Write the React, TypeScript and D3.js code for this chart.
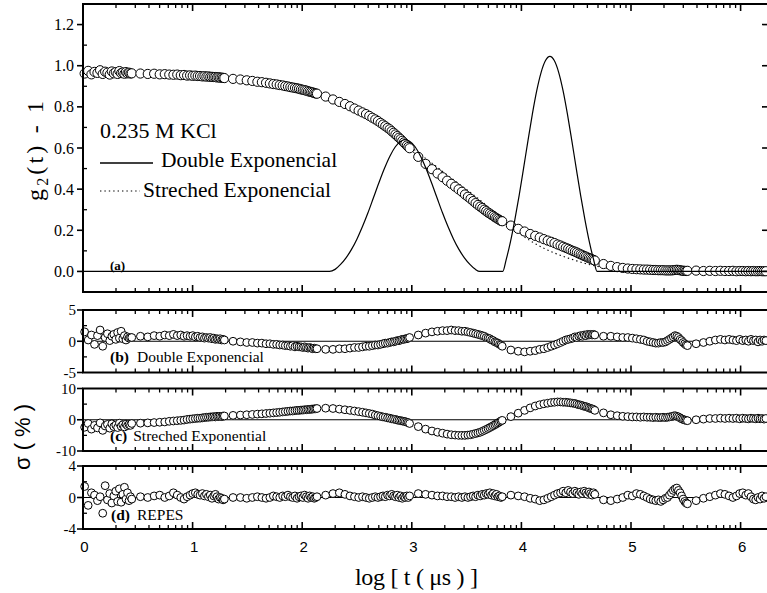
import React from 'react';
import * as d3 from 'd3';

// ---------------- data ----------------
// log10 of delay time (µs) for every measured channel
const delayLog = [
  0.015, 0.047, 0.077, 0.105, 0.132, 0.156, 0.180, 0.202, 0.223, 0.244, 0.263, 0.281, 0.299, 0.316, 0.332, 0.348, 0.363, 0.378, 0.392, 0.406, 0.420, 0.433,
  0.445, 0.524, 0.591, 0.649, 0.700, 0.746, 0.787, 0.825, 0.860, 0.892, 0.922, 0.950, 0.977, 1.001, 1.025, 1.047, 1.068, 1.089, 1.108, 1.126, 1.144, 1.161, 1.177, 1.193, 1.208, 1.223, 1.237, 1.251, 1.265, 1.278,
  1.290, 1.369, 1.436, 1.494, 1.545, 1.591, 1.632, 1.670, 1.705, 1.737, 1.767, 1.795, 1.822, 1.846, 1.870, 1.892, 1.913, 1.934, 1.953, 1.971, 1.989, 2.006, 2.022, 2.038, 2.053, 2.068, 2.082, 2.096, 2.110, 2.123,
  2.135, 2.214, 2.281, 2.339, 2.390, 2.436, 2.477, 2.515, 2.550, 2.582, 2.612, 2.640, 2.667, 2.691, 2.715, 2.737, 2.758, 2.779, 2.798, 2.816, 2.834, 2.851, 2.867, 2.883, 2.898, 2.913, 2.927, 2.941, 2.955, 2.968,
  2.980, 3.059, 3.126, 3.184, 3.235, 3.281, 3.322, 3.360, 3.395, 3.427, 3.457, 3.485, 3.512, 3.536, 3.560, 3.582, 3.603, 3.624, 3.643, 3.661, 3.679, 3.696, 3.712, 3.728, 3.743, 3.758, 3.772, 3.786, 3.800, 3.813,
  3.825, 3.904, 3.971, 4.029, 4.080, 4.126, 4.167, 4.205, 4.240, 4.272, 4.302, 4.330, 4.357, 4.381, 4.405, 4.427, 4.448, 4.469, 4.488, 4.506, 4.524, 4.541, 4.557, 4.573, 4.588, 4.603, 4.617, 4.631, 4.645, 4.658,
  4.670, 4.749, 4.816, 4.874, 4.925, 4.971, 5.012, 5.050, 5.085, 5.117, 5.147, 5.175, 5.202, 5.226, 5.250, 5.272, 5.293, 5.314, 5.333, 5.351, 5.369, 5.386, 5.402, 5.418, 5.433, 5.448, 5.462, 5.476, 5.490, 5.503,
  5.515, 5.594, 5.661, 5.719, 5.770, 5.816, 5.857, 5.895, 5.930, 5.962, 5.992, 6.020, 6.047, 6.071, 6.095, 6.117, 6.138, 6.159, 6.178, 6.196, 6.214, 6.231,
];

// g2(t) - 1
const g2Data = [
  0.962, 0.975, 0.958, 0.970, 0.965, 0.978, 0.960, 0.971, 0.966, 0.957, 0.972, 0.963, 0.969, 0.960, 0.974, 0.964, 0.967, 0.961, 0.969, 0.963, 0.966, 0.962,
  0.963, 0.962, 0.960, 0.961, 0.958, 0.959, 0.957, 0.956, 0.957, 0.954, 0.955, 0.952, 0.953, 0.951, 0.952, 0.950, 0.950, 0.948, 0.949, 0.947, 0.948, 0.946, 0.946, 0.945, 0.945, 0.943, 0.944, 0.942, 0.942, 0.941,
  0.940, 0.936, 0.933, 0.929, 0.926, 0.922, 0.920, 0.917, 0.914, 0.911, 0.909, 0.906, 0.904, 0.901, 0.899, 0.896, 0.894, 0.892, 0.890, 0.888, 0.885, 0.883, 0.881, 0.879, 0.876, 0.874, 0.872, 0.870, 0.867, 0.865,
  0.864, 0.850, 0.836, 0.824, 0.814, 0.803, 0.792, 0.782, 0.773, 0.765, 0.756, 0.747, 0.739, 0.731, 0.722, 0.714, 0.706, 0.698, 0.691, 0.682, 0.674, 0.666, 0.658, 0.650, 0.643, 0.635, 0.627, 0.620, 0.612, 0.605,
  0.599, 0.557, 0.523, 0.497, 0.476, 0.458, 0.441, 0.426, 0.412, 0.399, 0.387, 0.374, 0.363, 0.353, 0.342, 0.332, 0.323, 0.315, 0.308, 0.300, 0.293, 0.286, 0.281, 0.275, 0.270, 0.264, 0.259, 0.255, 0.250, 0.246,
  0.244, 0.223, 0.207, 0.194, 0.182, 0.173, 0.165, 0.157, 0.150, 0.144, 0.138, 0.131, 0.126, 0.120, 0.115, 0.110, 0.105, 0.100, 0.096, 0.092, 0.087, 0.083, 0.079, 0.075, 0.072, 0.068, 0.065, 0.062, 0.059, 0.056,
  0.053, 0.036, 0.027, 0.021, 0.017, 0.014, 0.012, 0.011, 0.010, 0.009, 0.009, 0.008, 0.007, 0.007, 0.006, 0.006, 0.006, 0.005, 0.005, 0.005, 0.005, 0.006, 0.007, 0.008, 0.007, 0.006, 0.004, 0.003, 0.003, 0.002,
  0.003, 0.004, 0.002, 0.003, 0.002, 0.003, 0.002, 0.002, 0.003, 0.001, 0.002, 0.002, 0.001, 0.002, 0.001, 0.002, 0.001, 0.001, 0.002, 0.001, 0.001, 0.001,
];

// residuals (%) — (b) double exponential
const resDouble = [
  1.5, 0.2, 1.0, -0.5, 0.9, 1.8, -0.8, 0.6, 1.2, 0.1, 0.8, 1.1, 0.3, 1.4, 0.5, 1.6, 0.4, 0.9, 0.2, 0.7, 0.5, 0.6,
  0.6, 0.8, 0.7, 0.9, 0.8, 1.0, 0.9, 1.1, 0.9, 1.0, 0.8, 0.9, 0.8, 0.9, 0.7, 0.8, 0.6, 0.7, 0.5, 0.6, 0.5, 0.6, 0.4, 0.5, 0.3, 0.4, 0.3, 0.4, 0.2, 0.3,
  0.2, 0.0, -0.1, -0.2, -0.2, -0.3, -0.3, -0.4, -0.4, -0.5, -0.5, -0.6, -0.6, -0.7, -0.7, -0.8, -0.7, -0.9, -0.8, -0.9, -0.9, -1.0, -0.9, -1.0, -1.1, -1.0, -1.1, -1.2, -1.1, -1.2,
  -1.2, -1.3, -1.3, -1.2, -1.2, -1.1, -1.0, -1.0, -0.9, -0.8, -0.8, -0.7, -0.6, -0.6, -0.5, -0.4, -0.3, -0.3, -0.2, -0.1, -0.1, 0.0, 0.1, 0.1, 0.2, 0.3, 0.3, 0.4, 0.4, 0.5,
  0.6, 1.0, 1.3, 1.5, 1.6, 1.7, 1.7, 1.8, 1.7, 1.7, 1.6, 1.6, 1.5, 1.4, 1.3, 1.2, 1.1, 1.0, 0.9, 0.8, 0.6, 0.5, 0.4, 0.2, 0.1, -0.1, -0.2, -0.3, -0.5, -0.6,
  -0.8, -1.4, -1.6, -1.7, -1.6, -1.5, -1.3, -1.2, -1.0, -0.8, -0.6, -0.4, -0.2, 0.0, 0.2, 0.3, 0.4, 0.5, 0.7, 0.6, 0.8, 0.9, 0.8, 1.0, 0.9, 1.1, 1.0, 1.1, 1.0, 1.1,
  1.0, 0.8, 0.8, 0.7, 0.6, 0.6, 0.5, 0.4, 0.3, 0.2, 0.0, -0.1, -0.2, -0.3, -0.3, -0.2, -0.2, -0.1, 0.1, 0.3, 0.5, 0.7, 0.9, 0.8, 0.6, 0.3, 0.1, -0.2, -0.4, -0.6,
  -0.7, -0.4, -0.2, 0.0, 0.2, 0.3, 0.2, 0.3, 0.2, 0.1, 0.3, 0.1, 0.2, 0.0, 0.3, 0.1, 0.2, -0.1, 0.2, 0.0, 0.2, 0.1,
];

// residuals (%) — (c) stretched exponential
const resStretched = [
  -2.4, -1.2, -3.0, -1.8, -2.6, -1.0, -3.4, -2.0, -1.5, -2.7, -1.3, -2.2, -1.7, -2.5, -1.1, -2.1, -1.6, -2.3, -1.4, -1.9, -1.5, -1.8,
  -1.2, -1.1, -1.0, -0.9, -0.8, -0.7, -0.5, -0.4, -0.3, -0.2, -0.1, 0.1, 0.2, 0.3, 0.4, 0.5, 0.5, 0.6, 0.7, 0.8, 0.8, 0.9, 0.9, 1.0, 0.9, 1.1, 1.0, 1.1, 1.0, 1.2,
  1.2, 1.4, 1.5, 1.6, 1.7, 1.8, 1.9, 2.0, 2.1, 2.2, 2.3, 2.4, 2.5, 2.6, 2.7, 2.8, 2.8, 2.9, 3.0, 3.0, 3.1, 3.1, 3.2, 3.2, 3.3, 3.3, 3.4, 3.4, 3.5, 3.5,
  3.6, 3.7, 3.6, 3.4, 3.2, 3.0, 2.8, 2.6, 2.4, 2.2, 2.0, 1.8, 1.5, 1.3, 1.1, 0.9, 0.8, 0.6, 0.5, 0.3, 0.2, 0.1, -0.1, -0.2, -0.3, -0.4, -0.5, -0.6, -0.8, -0.9,
  -1.2, -2.2, -3.0, -3.6, -4.0, -4.3, -4.6, -4.8, -4.9, -5.0, -5.0, -5.0, -4.9, -4.8, -4.6, -4.4, -4.2, -4.0, -3.7, -3.4, -3.1, -2.8, -2.5, -2.2, -1.9, -1.6, -1.3, -1.0, -0.7, -0.4,
  -0.2, 1.0, 2.1, 3.0, 3.8, 4.4, 4.8, 5.1, 5.3, 5.5, 5.6, 5.7, 5.7, 5.6, 5.6, 5.5, 5.4, 5.3, 5.2, 5.0, 4.8, 4.7, 4.5, 4.3, 4.2, 4.0, 3.8, 3.6, 3.5, 3.3,
  3.0, 2.2, 1.6, 1.3, 1.1, 1.0, 0.9, 0.9, 0.8, 0.9, 0.8, 0.8, 0.7, 0.8, 0.7, 0.7, 0.8, 0.7, 0.8, 0.9, 1.0, 1.2, 1.3, 1.1, 0.9, 0.6, 0.3, 0.1, -0.1, -0.2,
  -0.3, 0.0, 0.2, 0.4, 0.4, 0.5, 0.4, 0.5, 0.4, 0.5, 0.3, 0.5, 0.4, 0.3, 0.5, 0.4, 0.3, 0.5, 0.3, 0.4, 0.2, 0.4,
];

// residuals (%) — (d) REPES
const resRepes = [
  1.4, -1.0, 0.6, 0.3, -0.4, 0.1, -2.0, 1.5, -0.3, 0.5, -0.7, 0.2, 0.8, -0.5, 1.1, -0.6, 0.4, 1.3, -0.2, 0.6, -0.4, 0.1,
  -0.2, 0.1, 0.0, 0.2, 0.3, 0.0, 0.2, 0.6, 0.3, 0.0, -0.2, 0.1, 0.3, 0.5, 0.6, 0.4, 0.3, 0.5, 0.2, 0.4, 0.1, 0.3, -0.1, 0.2, 0.4, 0.1, -0.2, 0.0, -0.1, -0.3,
  -0.2, 0.0, 0.0, -0.1, 0.0, 0.1, 0.0, -0.1, 0.0, 0.2, 0.1, 0.0, 0.2, 0.1, 0.3, 0.1, 0.0, 0.2, -0.1, 0.1, 0.2, 0.0, 0.3, 0.1, -0.1, 0.2, 0.0, 0.1, -0.1, 0.0,
  0.1, 0.3, 0.5, 0.6, 0.4, 0.2, 0.1, 0.0, 0.1, 0.0, -0.1, 0.0, 0.1, 0.0, 0.1, 0.2, 0.1, 0.3, 0.2, 0.4, 0.2, 0.1, 0.3, 0.0, 0.2, -0.1, 0.1, 0.0, 0.2, 0.0,
  0.2, 0.5, 0.4, 0.3, 0.2, 0.2, 0.1, 0.1, 0.0, 0.1, 0.0, 0.1, 0.0, 0.1, 0.2, 0.1, 0.3, 0.2, 0.4, 0.3, 0.5, 0.4, 0.6, 0.3, 0.5, 0.2, 0.4, 0.1, 0.2, 0.0,
  0.1, 0.3, 0.2, 0.1, -0.1, -0.2, -0.4, -0.3, -0.1, 0.1, 0.3, 0.5, 0.6, 0.8, 0.6, 0.9, 0.7, 0.5, 0.8, 0.6, 0.4, 0.7, 0.5, 0.8, 0.6, 0.4, 0.7, 0.5, 0.3, 0.6,
  0.4, -0.3, -0.4, -0.2, 0.0, 0.3, 0.2, 0.5, 0.4, 0.2, 0.0, -0.2, -0.3, -0.4, -0.3, -0.5, -0.3, -0.1, 0.0, 0.3, 0.6, 0.9, 1.1, 1.2, 0.9, 0.6, 0.2, -0.2, -0.5, -0.7,
  -0.8, -0.4, -0.1, 0.1, 0.3, 0.5, 0.4, 0.2, 0.0, 0.2, 0.5, 0.6, 0.3, 0.5, 0.1, -0.2, -0.3, 0.0, -0.2, 0.2, -0.1, 0.1,
];

// double exponential fit curve (solid)
const fitDoubleX = [0, 0.4, 0.8, 1.2, 1.6, 2.0, 2.2, 2.4, 2.6, 2.7, 2.8, 2.9, 3.0, 3.1, 3.2, 3.3, 3.4, 3.5, 3.6, 3.7, 3.8, 3.9, 4.0, 4.1, 4.2, 4.3, 4.4, 4.5, 4.6, 4.7, 4.8, 4.9, 5.0, 5.2, 5.5, 6.25];
const fitDoubleY = [0.968, 0.963, 0.956, 0.944, 0.922, 0.884, 0.853, 0.812, 0.760, 0.728, 0.690, 0.642, 0.588, 0.535, 0.490, 0.450, 0.410, 0.367, 0.323, 0.284, 0.250, 0.224, 0.200, 0.178, 0.158, 0.138, 0.116, 0.093, 0.069, 0.047, 0.030, 0.019, 0.013, 0.007, 0.004, 0.002];

// stretched exponential fit curve (dotted)
const fitStretchX = [0, 0.5, 1.0, 1.5, 2.0, 2.3, 2.5, 2.7, 2.8, 2.9, 3.0, 3.1, 3.2, 3.3, 3.4, 3.5, 3.6, 3.7, 3.8, 3.9, 4.0, 4.1, 4.2, 4.3, 4.4, 4.5, 4.6, 4.7, 4.8, 4.9, 5.0, 5.5, 6.25];
const fitStretchY = [0.972, 0.965, 0.952, 0.925, 0.872, 0.818, 0.774, 0.720, 0.686, 0.646, 0.602, 0.560, 0.520, 0.478, 0.438, 0.398, 0.357, 0.312, 0.262, 0.218, 0.178, 0.143, 0.114, 0.090, 0.070, 0.052, 0.036, 0.024, 0.015, 0.010, 0.007, 0.003, 0.001];

// REPES relaxation-time distribution (solid, two peaks)
const distX = [0, 2.25, 2.30, 2.35, 2.40, 2.45, 2.50, 2.55, 2.60, 2.65, 2.70, 2.75, 2.80, 2.85, 2.90, 2.94, 2.98, 3.03, 3.08, 3.13, 3.18, 3.23, 3.28, 3.33, 3.38, 3.43, 3.48, 3.53, 3.58, 3.62, 3.83, 3.86, 3.90, 3.94, 3.98, 4.02, 4.06, 4.10, 4.14, 4.18, 4.22, 4.26, 4.30, 4.34, 4.38, 4.42, 4.46, 4.50, 4.54, 4.58, 4.62, 4.66, 4.69, 6.25];
const distY = [0, 0, 0.010, 0.034, 0.066, 0.107, 0.158, 0.218, 0.285, 0.358, 0.431, 0.500, 0.560, 0.606, 0.633, 0.640, 0.633, 0.606, 0.560, 0.500, 0.431, 0.358, 0.285, 0.218, 0.158, 0.107, 0.066, 0.034, 0.010, 0, 0, 0.055, 0.144, 0.251, 0.371, 0.502, 0.636, 0.765, 0.879, 0.968, 1.025, 1.045, 1.025, 0.968, 0.879, 0.765, 0.636, 0.502, 0.371, 0.251, 0.144, 0.055, 0, 0];

// axis ticks
const xMajorTicks = [0, 1, 2, 3, 4, 5, 6];
const xMinorMultipliers = [2, 3, 4, 5, 6, 7, 8, 9];
const topMajorTicks = [0, 0.2, 0.4, 0.6, 0.8, 1.0, 1.2];
const topMinorTicks = [0.1, 0.3, 0.5, 0.7, 0.9, 1.1];
const bMajorTicks = [-5, 0, 5];
const bMinorTicks = [-2.5, 2.5];
const cMajorTicks = [-10, 0, 10];
const cMinorTicks = [-5, 5];
const dMajorTicks = [-4, 0, 4];
const dMinorTicks = [-2, 2];

// ---------------- drawing ----------------
const SERIF = "'Liberation Serif', 'Times New Roman', serif";
const SANS = "'Liberation Sans', Arial, sans-serif";

const X_LEFT = 83;
const X_RIGHT = 768;
const x = d3.scaleLinear().domain([0, 6.25]).range([X_LEFT, X_RIGHT]);

const xMinorTicks: number[] = [];
for (const n of [0, 1, 2, 3, 4, 5, 6]) {
  for (const k of xMinorMultipliers) {
    const v = n + Math.log10(k);
    if (v < 6.25) xMinorTicks.push(v);
  }
}

type PanelDef = {
  top: number;
  bottom: number;
  domain: [number, number];
  major: number[];
  minor: number[];
  fmt: (v: number) => string;
  labelFont: number;
  labelX: number;
  rightTicks?: boolean;
};

function Frame({ p, y }: { p: PanelDef; y: d3.ScaleLinear<number, number> }) {
  const els: React.ReactNode[] = [];
  xMajorTicks.forEach((t, i) => {
    const xx = x(t);
    els.push(<line key={`xt${i}`} x1={xx} x2={xx} y1={p.top} y2={p.top + 7} stroke="#000" strokeWidth={1.6} />);
    els.push(<line key={`xb${i}`} x1={xx} x2={xx} y1={p.bottom} y2={p.bottom - 7} stroke="#000" strokeWidth={1.6} />);
  });
  xMinorTicks.forEach((t, i) => {
    const xx = x(t);
    els.push(<line key={`mt${i}`} x1={xx} x2={xx} y1={p.top} y2={p.top + 4} stroke="#000" strokeWidth={1.3} />);
    els.push(<line key={`mb${i}`} x1={xx} x2={xx} y1={p.bottom} y2={p.bottom - 4} stroke="#000" strokeWidth={1.3} />);
  });
  p.major.forEach((t, i) => {
    const yy = y(t);
    els.push(<line key={`ym${i}`} x1={X_LEFT - 6} x2={X_LEFT} y1={yy} y2={yy} stroke="#000" strokeWidth={1.6} />);
    els.push(
      <text key={`yl${i}`} x={p.labelX} y={yy} dy="0.35em" textAnchor="end" fontFamily={SERIF} fontSize={p.labelFont} fill="#000">
        {p.fmt(t)}
      </text>
    );
    if (p.rightTicks) {
      els.push(<line key={`yr${i}`} x1={X_RIGHT - 6} x2={X_RIGHT} y1={yy} y2={yy} stroke="#000" strokeWidth={1.6} />);
    }
  });
  p.minor.forEach((t, i) => {
    const yy = y(t);
    els.push(<line key={`yn${i}`} x1={X_LEFT} x2={X_LEFT + 4} y1={yy} y2={yy} stroke="#000" strokeWidth={1.3} />);
  });
  els.push(
    <rect key="frame" x={X_LEFT} y={p.top} width={X_RIGHT - X_LEFT} height={p.bottom - p.top} fill="none" stroke="#000" strokeWidth={2} />
  );
  return <g>{els}</g>;
}

const panelA: PanelDef = { top: 4, bottom: 292, domain: [-0.1, 1.3], major: topMajorTicks, minor: topMinorTicks, fmt: (v) => v.toFixed(1), labelFont: 16, labelX: 74, rightTicks: true };
const panelB: PanelDef = { top: 310, bottom: 372.5, domain: [-5, 5], major: bMajorTicks, minor: bMinorTicks, fmt: (v) => String(v), labelFont: 15, labelX: 76 };
const panelC: PanelDef = { top: 388.5, bottom: 451, domain: [-10, 10], major: cMajorTicks, minor: cMinorTicks, fmt: (v) => String(v), labelFont: 15, labelX: 76 };
const panelD: PanelDef = { top: 466, bottom: 529, domain: [-4, 4], major: dMajorTicks, minor: dMinorTicks, fmt: (v) => String(v), labelFont: 15, labelX: 76 };

function yOf(p: PanelDef) {
  return d3.scaleLinear().domain(p.domain).range([p.bottom, p.top]);
}

function ResidualPanel({ p, values }: { p: PanelDef; values: number[] }) {
  const y = yOf(p);
  const n = Math.min(delayLog.length, values.length);
  return (
    <g>
      <line x1={X_LEFT} x2={X_RIGHT} y1={y(0)} y2={y(0)} stroke="#000" strokeWidth={1} />
      {d3.range(n).map((i) => (
        <circle key={i} cx={x(delayLog[i])} cy={y(values[i])} r={3.9} fill="#fff" stroke="#000" strokeWidth={1} />
      ))}
      <Frame p={p} y={y} />
    </g>
  );
}

export default function App() {
  const yA = yOf(panelA);
  const lineOf = (xs: number[], ys: number[]) =>
    d3
      .line<number>()
      .x((i) => x(xs[i]))
      .y((i) => yA(ys[i]))
      .curve(d3.curveMonotoneX)(d3.range(Math.min(xs.length, ys.length))) || '';

  const nA = Math.min(delayLog.length, g2Data.length);

  return (
    <svg width={767} height={593} style={{ position: 'absolute', left: 0, top: 0, background: '#fff' }}>
      <rect x={0} y={0} width={767} height={593} fill="#fff" />

      {/* ---- panel (a) ---- */}
      <path d={lineOf(fitStretchX, fitStretchY)} fill="none" stroke="#000" strokeWidth={1.1} strokeDasharray="1.4,3" />
      <path d={lineOf(fitDoubleX, fitDoubleY)} fill="none" stroke="#000" strokeWidth={1} />
      {d3.range(nA).map((i) => (
        <circle key={i} cx={x(delayLog[i])} cy={yA(g2Data[i])} r={4.6} fill="#fff" stroke="#000" strokeWidth={1} />
      ))}
      <path d={lineOf(distX, distY)} fill="none" stroke="#000" strokeWidth={1.2} />
      <Frame p={panelA} y={yA} />

      {/* legend */}
      <text x={100} y={138} fontFamily={SERIF} fontSize={22} fill="#000">0.235 M KCl</text>
      <line x1={100} x2={153} y1={163} y2={163} stroke="#000" strokeWidth={1.3} />
      <text x={161} y={167} fontFamily={SERIF} fontSize={21.5} fill="#000">Double Exponencial</text>
      <line x1={100} x2={140} y1={191} y2={191} stroke="#000" strokeWidth={1.1} strokeDasharray="1.4,3" />
      <text x={143} y={197} fontFamily={SERIF} fontSize={21.5} fill="#000">Streched Exponencial</text>
      <text x={110} y={270} fontFamily={SERIF} fontSize={13} fontWeight="bold" fill="#000">(a)</text>

      {/* y label (a) */}
      <text transform="translate(43,151) rotate(-90)" textAnchor="middle" fontFamily={SERIF} fontSize={24} fill="#000" textLength={100} lengthAdjust="spacing">
        g<tspan dy={5} fontSize={16}>2</tspan><tspan dy={-5}>(t) - 1</tspan>
      </text>

      {/* ---- residual panels ---- */}
      <ResidualPanel p={panelB} values={resDouble} />
      <ResidualPanel p={panelC} values={resStretched} />
      <ResidualPanel p={panelD} values={resRepes} />

      <text x={110} y={362} fontFamily={SERIF} fontSize={15.5} fill="#000">
        <tspan fontWeight="bold">(b)</tspan><tspan dx={8}>Double Exponencial</tspan>
      </text>
      <text x={110} y={441} fontFamily={SERIF} fontSize={15.5} fill="#000">
        <tspan fontWeight="bold">(c)</tspan><tspan dx={6}>Streched Exponential</tspan>
      </text>
      <text x={111} y={520} fontFamily={SERIF} fontSize={15.5} fill="#000">
        <tspan fontWeight="bold">(d)</tspan><tspan dx={7}>REPES</tspan>
      </text>

      {/* sigma label */}
      <text transform="translate(30,437) rotate(-90)" textAnchor="middle" fontFamily={SANS} fontSize={22} fill="#000">σ ( % )</text>

      {/* x tick labels */}
      {xMajorTicks.map((t) => (
        <text key={t} x={x(t) + 1.5} y={552} textAnchor="middle" fontFamily={SANS} fontSize={15} fill="#000">
          {t}
        </text>
      ))}
      {/* x axis title */}
      <text x={416.5} y={585} textAnchor="middle" fontFamily={SERIF} fontSize={24} fill="#000" textLength={123} lengthAdjust="spacing">
        log [ t  ( μs ) ]
      </text>
    </svg>
  );
}
